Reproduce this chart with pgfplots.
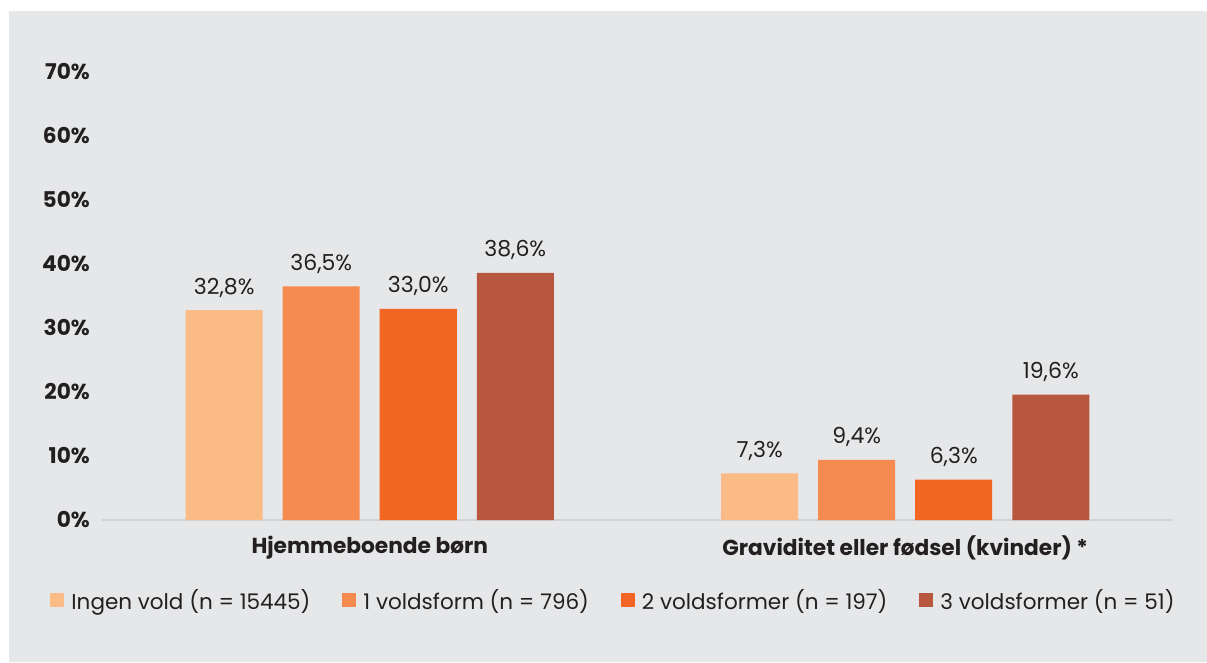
\documentclass[border=0pt]{standalone}
\usepackage{pgfplots}
\pgfplotsset{compat=1.18}
\usepackage{fontspec}
\setmainfont{Poppins}
\definecolor{bg}{HTML}{E6E7E8}
\definecolor{c1}{HTML}{FABB87}
\definecolor{c2}{HTML}{F68B50}
\definecolor{c3}{HTML}{F26522}
\definecolor{c4}{HTML}{B85740}
\definecolor{txt}{HTML}{231F20}
\definecolor{axl}{HTML}{D1D3D4}
\begin{document}
\begin{tikzpicture}
\path[use as bounding box, fill=white] (0,0) rectangle (1207pt,662pt);
\fill[bg] (9pt,0) rectangle (1207pt,651pt);
\begin{axis}[
  at={(102pt,142pt)}, anchor=south west,
  scale only axis, width=1071pt, height=448pt,
  xmin=-0.5, xmax=1.5, ymin=0, ymax=70,
  ybar=20pt, bar width=77pt,
  clip=false,
  axis x line*=bottom, axis y line*=left,
  x axis line style={draw=axl, line width=1.5pt, -},
  y axis line style={draw=none},
  major tick length=0pt,
  /pgf/number format/assume math mode=true,
  xtick={0,1},
  xticklabels={Hjemmeboende børn, Graviditet eller fødsel (kvinder) *},
  ytick={0,10,...,70},
  yticklabel={\pgfmathprintnumber{\tick}\%},
  ticklabel style={font=\bfseries\fontsize{21.7}{26}\selectfont, text=txt},
  xticklabel style={anchor=center, inner sep=0pt, yshift=-28pt},
  yticklabel style={anchor=east, inner sep=0pt, xshift=-12pt},
  nodes near coords={\pgfmathprintnumber[fixed, fixed zerofill, precision=1, use comma]{\pgfplotspointmeta}\%},
  every node near coord/.append style={anchor=base, yshift=16pt, font=\fontsize{22}{26}\selectfont, text=txt},
  legend image code/.code={\fill[#1] (0pt,-7pt) rectangle (14pt,7pt); \path (19pt,0pt);},
  legend style={at={(rel axis cs:0.4776,-0.1786)}, anchor=center, draw=none, fill=none,
    legend columns=4, font=\fontsize{21.5}{26}\selectfont, text=txt,
    /tikz/every even column/.append style={column sep=30pt}},
]
\addplot[fill=c1, draw=none] coordinates {(0,32.8) (1,7.3)};
\addplot[fill=c2, draw=none] coordinates {(0,36.5) (1,9.4)};
\addplot[fill=c3, draw=none] coordinates {(0,33.0) (1,6.3)};
\addplot[fill=c4, draw=none] coordinates {(0,38.6) (1,19.6)};
\legend{Ingen vold (n = 15445), 1 voldsform (n = 796), 2 voldsformer (n = 197), 3 voldsformer (n = 51)}
\end{axis}
\end{tikzpicture}
\end{document}
